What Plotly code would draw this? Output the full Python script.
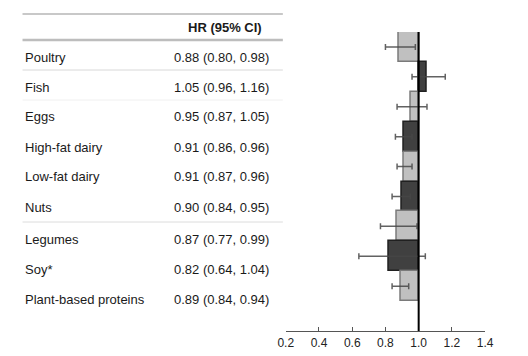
import plotly.graph_objects as go

foods = ["Poultry", "Fish", "Eggs", "High-fat dairy", "Low-fat dairy", "Nuts",
         "Legumes", "Soy*", "Plant-based proteins"]
hr = [0.88, 1.05, 0.95, 0.91, 0.91, 0.90, 0.87, 0.82, 0.89]
lo = [0.80, 0.96, 0.87, 0.86, 0.87, 0.84, 0.77, 0.64, 0.84]
hi = [0.98, 1.16, 1.05, 0.96, 0.96, 0.95, 0.99, 1.04, 0.94]
tick_vals = [0.2, 0.4, 0.6, 0.8, 1.0, 1.2, 1.4]
header = "HR (95% CI)"

W, H = 528, 356
def px(x):
    return x / W
def py(y):
    return 1 - y / H

rows = list(range(len(foods)))
fills = ["#c0c0c0" if i % 2 == 0 else "#404040" for i in rows]
edges = ["#7a7a7a" if i % 2 == 0 else "#202020" for i in rows]

fig = go.Figure()
fig.add_trace(go.Bar(
    y=rows, x=[h - 1 for h in hr], base=[1] * len(hr), orientation="h",
    width=1.0, marker=dict(color=fills, line=dict(color=edges, width=1.5)),
    showlegend=False, hoverinfo="skip"))
fig.add_trace(go.Scatter(
    y=rows, x=hr, mode="markers", marker=dict(size=1, opacity=0),
    error_x=dict(type="data", symmetric=False,
                 array=[h - m for h, m in zip(hi, hr)],
                 arrayminus=[m - l for m, l in zip(hr, lo)],
                 color="rgba(70,70,70,0.85)", thickness=1.5, width=3),
    showlegend=False, hoverinfo="skip"))

# reference line at HR = 1
fig.add_shape(type="line", xref="x", yref="y", x0=1, x1=1, y0=-0.5, y1=9.5,
              line=dict(color="#000000", width=2))

# table
txt_font = dict(family="Liberation Sans, Arial", size=13, color="#1a1a1a")
text_y = [57, 87, 117, 147, 177, 207, 239, 269, 299]
for name, h, l, u, ty in zip(foods, hr, lo, hi, text_y):
    fig.add_annotation(x=px(15), y=py(ty), xref="paper", yref="paper",
                       text=name, showarrow=False, xanchor="left", yanchor="middle",
                       font=txt_font)
    fig.add_annotation(x=px(272), y=py(ty), xref="paper", yref="paper",
                       text=f"{h:.2f} ({l:.2f}, {u:.2f})", showarrow=False,
                       xanchor="right", yanchor="middle", font=txt_font)
fig.add_annotation(x=px(265), y=py(28), xref="paper", yref="paper",
                   text=f"<b>{header}</b>", showarrow=False, xanchor="right",
                   yanchor="middle", font=txt_font)

for yline, col, w in [(14, "#c8c8c8", 2), (40, "#bdbdbd", 2.5), (70, "#d8d8d8", 1),
                      (100, "#f0f0f0", 1), (222, "#dcdcdc", 1)]:
    fig.add_shape(type="line", xref="paper", yref="paper",
                  x0=px(15), x1=px(284), y0=py(yline), y1=py(yline),
                  line=dict(color=col, width=w))

fig.update_layout(
    width=W, height=H, margin=dict(l=0, r=0, t=0, b=0),
    plot_bgcolor="white", paper_bgcolor="white", bargap=0,
    xaxis=dict(domain=[px(287), px(493)], range=[0.2, 1.4], tickvals=tick_vals,
               ticktext=[f"{v:.1f}" for v in tick_vals], showgrid=False,
               zeroline=False, showline=True, linecolor="#555", linewidth=1.2,
               ticks="inside", ticklen=4, tickcolor="#555", tickwidth=1.2,
               tickfont=dict(family="Liberation Sans, Arial", size=12, color="#222")),
    yaxis=dict(domain=[py(331), py(32)], range=[9.5, -0.5], visible=False,
               showgrid=False, zeroline=False),
)

fig.write_html("out.html")
